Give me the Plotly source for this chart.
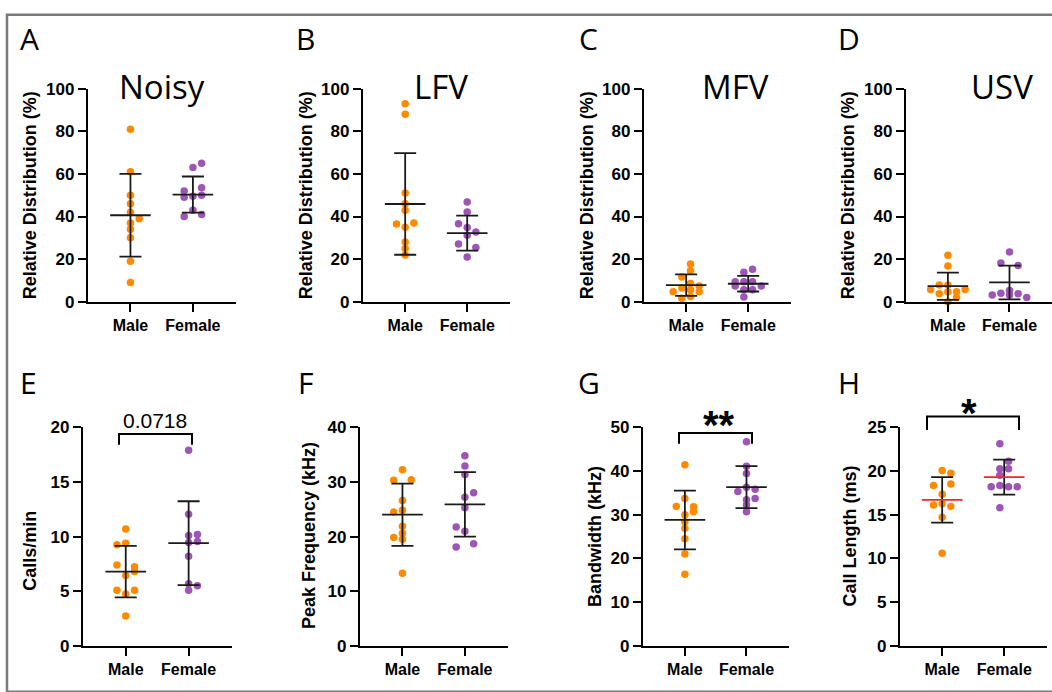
import plotly.graph_objects as go

# ---------------- data ----------------
groups = ["Male", "Female"]
panel_titles = ["Noisy", "LFV", "MFV", "USV", "", "", "", ""]
panel_letters = ["A", "B", "C", "D", "E", "F", "G", "H"]
y_titles = ["Relative Distribution (%)", "Relative Distribution (%)",
            "Relative Distribution (%)", "Relative Distribution (%)",
            "Calls/min", "Peak Frequency (kHz)", "Bandwidth (kHz)", "Call Length (ms)"]
y_max = [100, 100, 100, 100, 20, 40, 50, 25]
y_step = [20, 20, 20, 20, 5, 10, 10, 5]

# individual animals
A_male = [81, 61, 50, 46, 42, 39, 37, 34, 30, 19, 9]
A_female = [65, 63, 53.5, 52, 50, 49.5, 49, 43, 41, 40]
B_male = [93, 88, 51, 46, 43, 36.5, 37, 35, 28, 25, 22]
B_female = [46.8, 42.1, 36.6, 34.8, 31.2, 32.7, 27.1, 25.5, 21]
C_male = [17.7, 14.5, 11.6, 8.6, 7.4, 6.5, 5.6, 4.7, 4.7, 2.5, 1.6]
C_female = [15.2, 13.9, 9.4, 9.4, 9.4, 7.4, 7.4, 5.6, 5.6, 2.2]
D_male = [21.8, 16.8, 7.8, 7.8, 5.8, 5.8, 4.7, 4.7, 3.8, 2.0, 0]
D_female = [23.4, 18.2, 17.0, 5.3, 4.0, 3.7, 3.2, 3.2, 2.0]
E_male = [10.7, 9.25, 9.4, 7.4, 7.25, 6.45, 6.8, 5.1, 5.1, 4.75, 2.75]
E_female = [17.9, 12.05, 10.1, 10.2, 9.45, 9.55, 8.2, 5.7, 5.5, 5.1]
F_male = [32.2, 30.3, 30.4, 26.6, 24.5, 24.8, 21.9, 20.6, 19.85, 19.5, 13.3]
F_female = [34.8, 32.9, 31.35, 28.0, 27.2, 25.3, 21.75, 21.0, 18.1, 18.7]
G_male = [41.4, 33.7, 31.9, 31.8, 30.7, 30.0, 28.4, 26.9, 24.5, 21.0, 16.4]
G_female = [46.7, 41.1, 39.4, 36.3, 35.3, 35.8, 33.7, 33.4, 32.2, 30.7]
H_male = [20.05, 19.75, 18.35, 18.5, 17.35, 16.1, 16.25, 15.95, 14.7, 10.6]
H_female = [23.1, 21.1, 20.25, 20.25, 19.5, 18.2, 18.35, 18.2, 18.2, 15.8]

# scatter column of each dot (dot-plot spreading, in columns)
A_male_col = [0, 0, 0, 0, 0, 1, 0, 0, 0, 0, 0]
A_female_col = [1, 0, 1, -1, 1, 0, -1, 0, 1, -1]
B_male_col = [0, 0, 0, 0, 0, -1, 1, 0, 0, 0, 0]
B_female_col = [0, 0, -1, 0, 0, 1, -1, 1, 0]
C_male_col = [0.5, 0.5, -0.5, 0.5, 1.5, -0.5, 0.5, -1.5, 1.5, 0.5, -0.5]
C_female_col = [0.5, -0.5, -1.5, -0.5, 0.5, -1.5, 1.5, -0.5, 0.5, -0.5]
D_male_col = [0, 0, -1, 0, -2, 2, 0, 1, -1, 1, 0]
D_female_col = [0, -1, 1, 0, -1, 1, -2, 0, 2]
E_male_col = [0, -1, 0, -1, 1, 0, 1, -1, 1, 0, 0]
E_female_col = [0, 0, 0, 1, 0, 1, 0, 0, 1, 0]
F_male_col = [0, -1, 1, 0, -1, 0, 0, 0, -1, 0, 0]
F_female_col = [0, 0, 0, 1, 0, 0, -1, 0, -1, 1]
G_male_col = [0, 0, -1, 1, 1, 0, 0, 0, 0, 0, 0]
G_female_col = [0, 0, 0, 0, -1, 1, 1, 0, 0, 0]
H_male_col = [0, 1, -1, 1, 0, -1, 0, 1, 0, 0]
H_female_col = [-0.5, 0.5, -0.5, 0.5, -0.5, -1.5, -0.5, 0.5, 1.5, -0.5]

# mean and SD as drawn
male_mean = [40.6, 45.9, 7.8, 7.3, 6.8, 24.0, 28.8, 16.7]
male_sd = [19.45, 23.85, 5.05, 6.4, 2.35, 5.7, 6.7, 2.6]
female_mean = [50.3, 32.2, 8.45, 9.05, 9.4, 25.9, 36.3, 19.3]
female_sd = [8.5, 8.2, 3.65, 7.95, 3.83, 5.9, 4.8, 2.0]

significance = {4: "0.0718", 6: "**", 7: "*"}

male_vals = [A_male, B_male, C_male, D_male, E_male, F_male, G_male, H_male]
female_vals = [A_female, B_female, C_female, D_female, E_female, F_female, G_female, H_female]
male_cols = [A_male_col, B_male_col, C_male_col, D_male_col, E_male_col, F_male_col, G_male_col, H_male_col]
female_cols = [A_female_col, B_female_col, C_female_col, D_female_col, E_female_col, F_female_col, G_female_col, H_female_col]

# ---------------- layout / style ----------------
W, H = 1052, 692
ORANGE = "#FF8A00"
PURPLE = "#9E56B6"
RED = "#F0282A"
FONT = "Liberation Sans, Arial, sans-serif"
TFONT = "Open Sans, Noto Sans, sans-serif"
COLW = 0.14
XR = [-0.68, 1.69]


def fx(px):
    return px / W


def fy(py):
    return 1 - py / H


# axis boxes in pixels: (x_left, x_right, y_top, y_bottom)
boxes = [(88, 236, 82, 301), (363, 510, 82, 301), (644, 791, 82, 301), (906, 1052, 82, 301),
         (83, 232, 430, 655), (360, 508, 430, 655), (643, 789, 430, 655), (900, 1047, 430, 655)]
letter_pos = [(29, 30), (305, 30), (588, 30), (849, 30), (28, 384), (305, 384), (589, 384), (849, 384)]
title_pos = [(162, 80), (441, 80), (735, 80), (1002, 80)]
ytitle_pos = [(30, 191.5), (306, 191.5), (587, 191.5), (848, 191.5),
              (30, 557), (309, 542), (595, 543), (850, 542.5)]
brackets = {4: (119, 192, 437, 448, 155, 423), 6: (679, 752, 436, 447, 719, 428),
            7: (927, 1019, 419, 433, 969, 415)}

fig = go.Figure()
layout = dict(width=W, height=H, margin=dict(l=0, r=0, t=0, b=0), autosize=False,
              paper_bgcolor="white", plot_bgcolor="white", showlegend=False,
              annotations=[], shapes=[])

for i in range(8):
    n = i + 1
    xa = "x" if n == 1 else f"x{n}"
    ya = "y" if n == 1 else f"y{n}"
    xl, xr, yt, yb = boxes[i]
    ax_common = dict(showline=True, linewidth=2.4, linecolor="black", ticks="outside",
                     ticklen=8, tickwidth=2.4, tickcolor="black", showgrid=False, zeroline=False,
                     fixedrange=True)
    layout["xaxis" if n == 1 else f"xaxis{n}"] = dict(
        ax_common, domain=[fx(xl), min(fx(xr), 1.0)], anchor=ya, range=XR,
        tickvals=[0, 1], ticktext=groups,
        tickfont=dict(family=FONT, size=16, color="black", weight="bold"))
    layout["yaxis" if n == 1 else f"yaxis{n}"] = dict(
        ax_common, domain=[fy(yb), fy(yt)], anchor=xa, range=[0, y_max[i]],
        tickvals=list(range(0, y_max[i] + 1, y_step[i])),
        tickfont=dict(family=FONT, size=17, color="black", weight="bold"))

    fig.add_trace(go.Scatter(
        x=[c * COLW for c in male_cols[i]], y=male_vals[i], xaxis=xa, yaxis=ya, mode="markers",
        marker=dict(color=ORANGE, size=7.5), cliponaxis=False, hoverinfo="skip"))
    fig.add_trace(go.Scatter(
        x=[1 + c * COLW for c in female_cols[i]], y=female_vals[i], xaxis=xa, yaxis=ya, mode="markers",
        marker=dict(color=PURPLE, size=7.5), cliponaxis=False, hoverinfo="skip"))
    mean_color = RED if i == 7 else "#1a1a1a"
    fig.add_trace(go.Scatter(
        x=[0, 1], y=[male_mean[i], female_mean[i]], xaxis=xa, yaxis=ya, mode="markers",
        marker=dict(symbol="line-ew", size=29, color=mean_color,
                    line=dict(width=1.8, color=mean_color)),
        error_y=dict(type="data", array=[male_sd[i], female_sd[i]], visible=True,
                     color="#1a1a1a", thickness=1.8, width=11),
        cliponaxis=False, hoverinfo="skip"))

    layout["annotations"].append(dict(
        text=panel_letters[i], x=fx(letter_pos[i][0]), y=fy(letter_pos[i][1]), xref="paper", yref="paper",
        xanchor="center", yanchor="middle", showarrow=False,
        font=dict(family=TFONT, size=30, color="black")))
    if panel_titles[i]:
        layout["annotations"].append(dict(
            text=panel_titles[i], x=fx(title_pos[i][0]), y=fy(title_pos[i][1]), xref="paper", yref="paper",
            xanchor="center", yanchor="middle", showarrow=False,
            font=dict(family=TFONT, size=33, color="black")))
    layout["annotations"].append(dict(
        text=y_titles[i], x=fx(ytitle_pos[i][0]), y=fy(ytitle_pos[i][1]), xref="paper", yref="paper",
        xanchor="center", yanchor="middle", textangle=-90, showarrow=False,
        font=dict(family=FONT, size=18, color="black", weight="bold")))

    if i in significance:
        bx0, bx1, btop, bbot, tx, ty = brackets[i]
        layout["shapes"].append(dict(
            type="path", xref="paper", yref="paper",
            path=f"M {fx(bx0)} {fy(bbot)} L {fx(bx0)} {fy(btop)} L {fx(bx1)} {fy(btop)} L {fx(bx1)} {fy(bbot)}",
            line=dict(color="black", width=2)))
        txt = significance[i]
        is_star = "*" in txt
        layout["annotations"].append(dict(
            text=txt, x=fx(tx), y=fy(ty), xref="paper", yref="paper",
            xanchor="center", yanchor="middle", showarrow=False,
            font=dict(family=FONT, size=40 if is_star else 21, color="black",
                      weight="bold" if is_star else "normal")))

# outer grey frame
layout["shapes"].append(dict(type="rect", xref="paper", yref="paper",
                             x0=fx(7), x1=fx(1062), y0=fy(702), y1=fy(6),
                             line=dict(color="#7a7a7a", width=2.5)))

fig.update_layout(**layout)
fig.write_html("out.html", config={"displayModeBar": False},
               post_script="document.body.style.margin='0';document.body.style.overflow='hidden';")
